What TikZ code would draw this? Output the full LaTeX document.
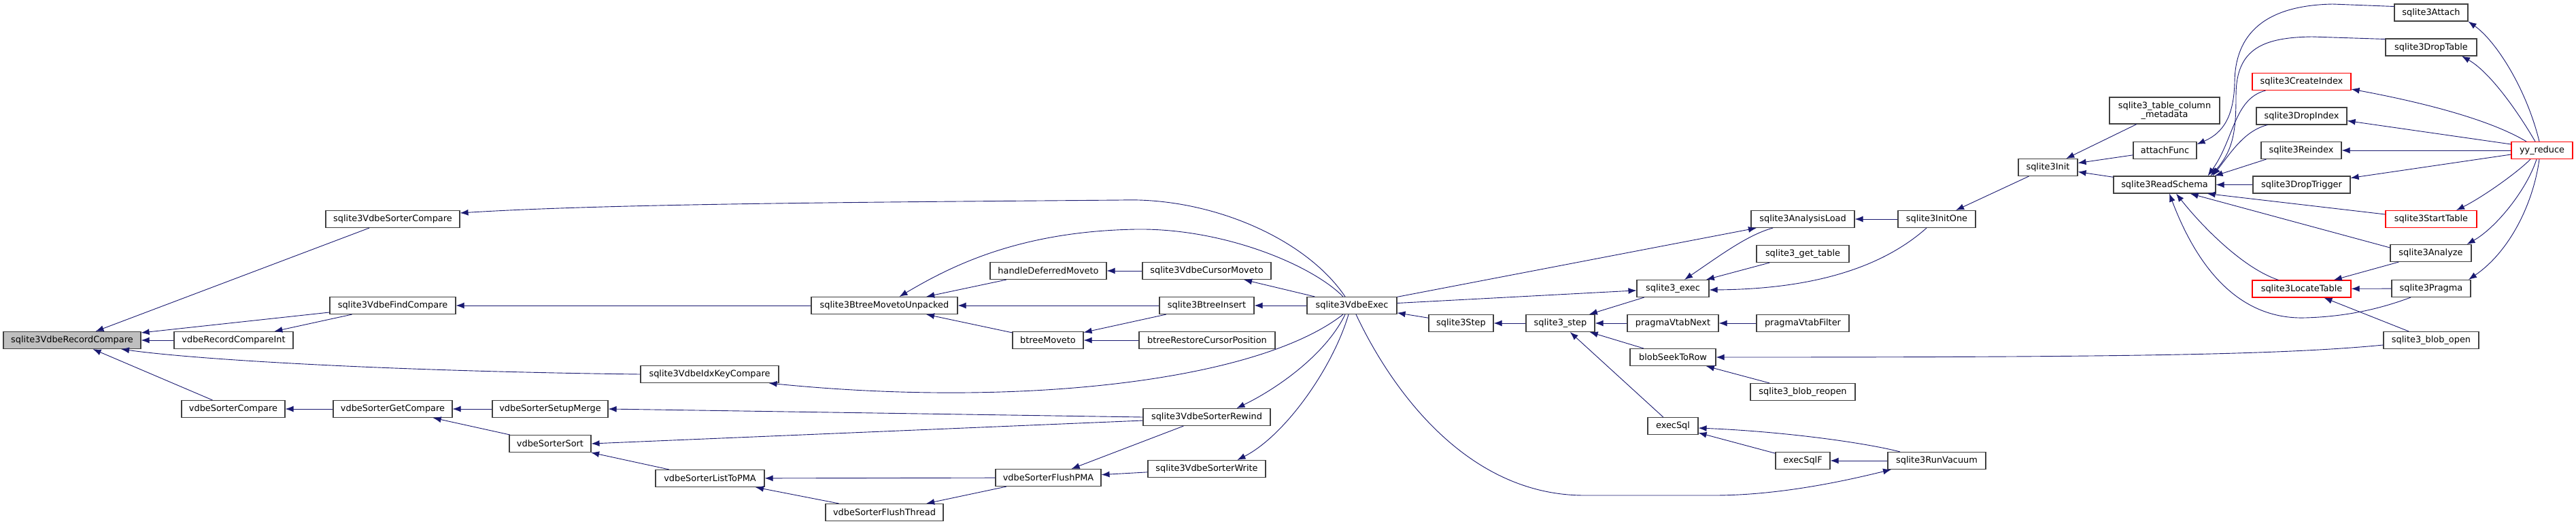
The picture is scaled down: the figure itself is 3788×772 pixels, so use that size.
\documentclass[tikz,border=0pt]{standalone}
\usepackage{fontspec}
\newfontfamily\dejavu{DejaVu Sans}
\usetikzlibrary{arrows.meta}
\definecolor{edgeblue}{HTML}{191970}
\definecolor{boxline}{HTML}{404040}

\begin{document}
\begin{tikzpicture}[x=1pt, y=-1pt,
	fn/.style={draw=boxline, line width=1.1pt, fill=white, minimum height=25pt, inner sep=0pt, font=\dejavu\fontsize{12.9}{13.5}\selectfont},
	hot/.style={fn, draw=red},
	root/.style={fn, fill=black!25},
	call/.style={draw=edgeblue, line width=0.9pt, {Latex[length=12pt, width=9pt]}-}]
	\useasboundingbox (0,0) rectangle (3788,772);
	
	\node[root, minimum width=202pt] (rc) at (106,500) {sqlite3VdbeRecordCompare};
	\node[fn, minimum width=197pt] (sc) at (577.5,322) {sqlite3VdbeSorterCompare};
	\node[fn, minimum width=185pt] (fc) at (577.5,449) {sqlite3VdbeFindCompare};
	\node[fn, minimum width=175pt] (rci) at (343.5,500) {vdbeRecordCompareInt};
	\node[fn, minimum width=152pt] (vsc) at (343,601) {vdbeSorterCompare};
	\node[fn, minimum width=175pt] (gc) at (577.5,601) {vdbeSorterGetCompare};
	\node[fn, minimum width=215pt] (bmu) at (1300.5,449) {sqlite3BtreeMovetoUnpacked};
	\node[fn, minimum width=203pt] (ikc) at (1043.5,550) {sqlite3VdbeIdxKeyCompare};
	\node[fn, minimum width=170pt] (sm) at (809,601) {vdbeSorterSetupMerge};
	\node[fn, minimum width=120pt] (ss) at (809,652) {vdbeSorterSort};
	\node[fn, minimum width=160pt] (ltp) at (1044,703) {vdbeSorterListToPMA};
	\node[fn, minimum width=173pt] (fth) at (1300.5,753) {vdbeSorterFlushThread};
	
	\node[fn, minimum width=171pt] (hdm) at (1541.5,398) {handleDeferredMoveto};
	\node[fn, minimum width=189pt] (cm) at (1774.5,398) {sqlite3VdbeCursorMoveto};
	\node[fn, minimum width=139pt] (bi) at (1774.5,449) {sqlite3BtreeInsert};
	\node[fn, minimum width=104pt] (bm) at (1541,500) {btreeMoveto};
	\node[fn, minimum width=200pt] (brcp) at (1775,500) {btreeRestoreCursorPosition};
	\node[fn, minimum width=187pt] (rw) at (1774.5,613) {sqlite3VdbeSorterRewind};
	\node[fn, minimum width=155pt] (fpma) at (1541.5,702) {vdbeSorterFlushPMA};
	\node[fn, minimum width=173pt] (wr) at (1774.5,689) {sqlite3VdbeSorterWrite};
	
	\node[fn, minimum width=132pt] (ex) at (1988,449) {sqlite3VdbeExec};
	\node[fn, minimum width=95pt] (st) at (2148.5,475) {sqlite3Step};
	\node[fn, minimum width=101pt] (ustep) at (2294.5,475) {sqlite3\_step};
	\node[fn, minimum width=106pt] (uexec) at (2460,424) {sqlite3\_exec};
	\node[fn, minimum width=134pt] (pvn) at (2460,475) {pragmaVtabNext};
	\node[fn, minimum width=126pt] (bstr) at (2460,525) {blobSeekToRow};
	\node[fn, minimum width=74pt] (esql) at (2460,626) {execSql};
	\node[fn, minimum width=152pt] (al) at (2651,322) {sqlite3AnalysisLoad};
	\node[fn, minimum width=136pt] (gt) at (2651,373) {sqlite3\_get\_table};
	\node[fn, minimum width=136pt] (pvf) at (2651,475) {pragmaVtabFilter};
	\node[fn, minimum width=154pt] (bro) at (2651,576) {sqlite3\_blob\_reopen};
	\node[fn, minimum width=80pt] (esf) at (2651,677) {execSqlF};
	\node[fn, minimum width=114pt] (io) at (2848,322) {sqlite3InitOne};
	\node[fn, minimum width=144pt] (rv) at (2848,677) {sqlite3RunVacuum};
	
	\node[fn, minimum width=87pt] (ini) at (3011.5,246) {sqlite3Init};
	\node[fn, minimum width=162pt, minimum height=39pt, align=center] (tcm) at (3183,162.5) {sqlite3\_table\_column\\\_metadata};
	\node[fn, minimum width=93pt] (af) at (3183.5,221) {attachFunc};
	\node[fn, minimum width=150pt] (rs) at (3183,271.5) {sqlite3ReadSchema};
	\node[fn, minimum width=108pt] (att) at (3575,18.5) {sqlite3Attach};
	\node[fn, minimum width=134pt] (dt) at (3575,69.5) {sqlite3DropTable};
	\node[hot, minimum width=145pt] (ci) at (3384.5,120) {sqlite3CreateIndex};
	\node[fn, minimum width=133pt] (di) at (3384.5,170.5) {sqlite3DropIndex};
	\node[fn, minimum width=118pt] (ri) at (3384,221) {sqlite3Reindex};
	\node[fn, minimum width=143pt] (dtr) at (3384.5,271.5) {sqlite3DropTrigger};
	\node[hot, minimum width=134pt] (stt) at (3575,322) {sqlite3StartTable};
	\node[fn, minimum width=119pt] (an) at (3574.5,372) {sqlite3Analyze};
	\node[hot, minimum width=145pt] (lt) at (3384.5,424.5) {sqlite3LocateTable};
	\node[fn, minimum width=116pt] (pr) at (3575,424) {sqlite3Pragma};
	\node[fn, minimum width=140pt] (bo) at (3575,500) {sqlite3\_blob\_open};
	\node[hot, minimum width=90pt] (yy) at (3738,221) {yy\_reduce};
	
	\draw[call] (rc) -- (sc);
	\draw[call] (rc) -- (fc);
	\draw[call] (rc) -- (rci);
	\draw[call] ([xshift=72pt]rc.south) .. controls (300,530) and (600,546) .. (ikc.west);
	\draw[call] (rc) -- (vsc);
	\draw[call] (rci) -- (fc);
	\draw[call] (vsc) -- (gc);
	\draw[call] ([yshift=9pt]sc.east) .. controls (900,299) and (1300,297) .. (1650,294) .. controls (1780,290) and (1920,350) .. ([xshift=-10pt]ex.north);
	\draw[call] (fc) -- (bmu);
	\draw[call] ([xshift=-15pt]ikc.south east) .. controls (1500,600) and (1850,560) .. ([xshift=-13pt]ex.south);
	\draw[call] (gc) -- (sm);
	\draw[call] (gc) -- (ss);
	\draw[call] (sm.east) -- (rw.west);
	\draw[call] (ss.east) -- ([yshift=-5pt]rw.west);
	\draw[call] (ss) -- (ltp);
	\draw[call] (ltp) -- (fpma);
	\draw[call] (ltp) -- (fth);
	\draw[call] (fth) -- (fpma);
	\draw[call] (fpma) -- (rw);
	\draw[call] (fpma) -- (wr);
	\draw[call] ([xshift=44pt]rw.north) .. controls (1880,570) and (1950,520) .. ([xshift=-10pt]ex.south);
	\draw[call] ([xshift=45pt]wr.north) .. controls (1890,640) and (1960,540) .. ([xshift=-5pt]ex.south);
	
	\draw[call] ([xshift=22pt]bmu.north) .. controls (1400,390) and (1500,340) .. (1670,337) .. controls (1800,335) and (1930,390) .. ([xshift=-13pt]ex.north);
	\draw[call] (bmu) -- (hdm);
	\draw[call] (bmu) -- (bi);
	\draw[call] (bmu) -- (bm);
	\draw[call] (hdm) -- (cm);
	\draw[call] (cm) -- (ex);
	\draw[call] (bi) -- (ex);
	\draw[call] (bm) -- (bi);
	\draw[call] (bm) -- (brcp);
	
	\draw[call] (ex) -- (st);
	\draw[call] (uexec) -- (ex);
	\draw[call] (al) -- (ex);
	\draw[call] ([xshift=-67pt]rv.south) .. controls (2720,705) and (2620,728) .. (2520,728) -- (2330,728) .. controls (2150,728) and (2040,560) .. ([xshift=6pt]ex.south);
	\draw[call] (st) -- (ustep);
	\draw[call] (ustep) -- (uexec);
	\draw[call] (ustep) -- (pvn);
	\draw[call] (ustep) -- (bstr);
	\draw[call] (ustep) -- (esql);
	\draw[call] ([xshift=17pt]uexec.north) .. controls (2530,375) and (2570,345) .. ([xshift=-44pt]al.south);
	\draw[call] (uexec) -- (gt);
	\draw[call] ([yshift=-2pt]uexec.east) .. controls (2650,425) and (2760,400) .. ([xshift=-15pt]io.south);
	\draw[call] (pvn) -- (pvf);
	\draw[call] (bstr.east) .. controls (3100,525) and (3350,522) .. ([yshift=-7pt]bo.west);
	\draw[call] (bstr) -- (bro);
	\draw[call] (esql) -- (esf);
	\draw[call] ([yshift=-3pt]esql.east) .. controls (2620,634) and (2740,650) .. ([xshift=-54pt]rv.north);
	\draw[call] (esf) -- (rv);
	\draw[call] (al) -- (io);
	\draw[call] (io) -- (ini);
	
	\draw[call] (ini) -- (tcm);
	\draw[call] (ini) -- (af);
	\draw[call] (ini) -- (rs);
	\draw[call] ([yshift=9pt]af.east) .. controls (3270,195) and (3285,170) .. (3286,120) .. controls (3287,50) and (3330,8) .. (3430,6) -- ([yshift=9pt]att.west);
	\draw[call] ([xshift=-8pt]rs.north east) .. controls (3285,220) and (3288,190) .. (3288,140) .. controls (3288,70) and (3330,55) .. (3400,54) -- ([yshift=12pt]dt.west);
	\draw[call] ([xshift=-12pt]rs.north east) .. controls (3285,205) and (3285,145) .. ([xshift=20pt]ci.south west);
	\draw[call] ([xshift=-5pt]rs.north east) .. controls (3280,225) and (3300,192) .. ([xshift=17pt]di.south west);
	\draw[call] ([xshift=-2pt]rs.north east) -- ([xshift=8pt]ri.south west);
	\draw[call] (rs) -- (dtr);
	\draw[call] ([xshift=-13pt]rs.south east) -- ([yshift=7pt]stt.west);
	\draw[call] ([xshift=-38pt]rs.south east) -- ([yshift=8pt]an.west);
	\draw[call] ([xshift=17pt]rs.south) .. controls (3240,335) and (3300,395) .. ([xshift=-34pt]lt.north);
	\draw[call] ([xshift=7pt]rs.south) .. controls (3230,390) and (3290,470) .. (3390,467) .. controls (3460,465) and (3510,450) .. ([xshift=-30pt]pr.south);
	
	\draw[call] (att.south east) .. controls (3670,60) and (3715,130) .. ([xshift=-4pt]yy.north);
	\draw[call] ([xshift=45pt]dt.south) .. controls (3660,105) and (3700,160) .. ([xshift=-10pt]yy.north);
	\draw[call] ([yshift=-11pt]ci.east) .. controls (3560,150) and (3660,175) .. ([xshift=-23pt]yy.north);
	\draw[call] ([yshift=-7pt]di.east) -- ([yshift=9pt]yy.west);
	\draw[call] (ri) -- (yy);
	\draw[call] ([yshift=10pt]dtr.east) -- ([yshift=-6pt]yy.west);
	\draw[call] ([xshift=37pt]stt.north) .. controls (3650,290) and (3700,255) .. ([xshift=-17pt]yy.south);
	\draw[call] ([xshift=53pt]an.north) .. controls (3670,335) and (3715,280) .. ([xshift=-8pt]yy.south);
	\draw[call] ([xshift=55pt]pr.north) .. controls (3690,370) and (3725,300) .. ([xshift=-4pt]yy.south);
	\draw[call] (lt) -- (an);
	\draw[call] (lt) -- (pr);
	\draw[call] (lt) -- (bo);
\end{tikzpicture}
\end{document}
